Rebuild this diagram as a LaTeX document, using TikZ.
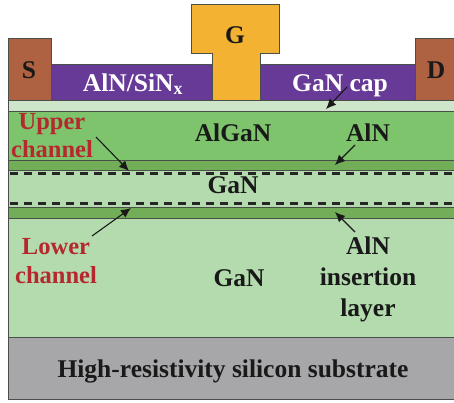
\documentclass[tikz,border=0pt]{standalone}
\usepackage{fontspec}
\setmainfont{Liberation Serif}
\usetikzlibrary{arrows.meta}
\definecolor{capgreen}{HTML}{CDE5C8}
\definecolor{barrier}{HTML}{7DC46C}
\definecolor{spacer}{HTML}{72AD58}
\definecolor{buffer}{HTML}{B4DBAE}
\definecolor{contact}{HTML}{AE6242}
\definecolor{passiv}{HTML}{663A96}
\definecolor{gate}{HTML}{F4B233}
\definecolor{substrate}{HTML}{A7A7AA}
\definecolor{outline}{HTML}{4A4F4A}
\definecolor{channelred}{HTML}{B5282E}
\tikzset{
	layer/.style={draw=outline, line width=1pt},
	lbl/.style={font=\bfseries\fontsize{25.5}{30}\selectfont, text=black!90, inner sep=0pt, anchor=base},
	lblred/.style={lbl, font=\bfseries\fontsize{24.5}{29}\selectfont, text=channelred},
	lblwhite/.style={lbl, text=white},
	pointer/.style={-{Latex[length=10pt,width=9pt]}, line width=1.1pt, black!90},
	channel/.style={draw=black!85, dash pattern=on 7.5pt off 6.5pt, line width=3pt}
}
\begin{document}
\begin{tikzpicture}[x=1pt, y=-1pt]
	\useasboundingbox (0,0) rectangle (454,402);
	% epitaxial stack
	\draw [layer, fill=substrate] (8,337) rectangle (456,399);
	\draw [layer, fill=buffer] (8,218) rectangle (456,337);
	\draw [layer, fill=spacer] (8,207) rectangle (456,218);
	\draw [draw=none, fill=buffer] (8,171) rectangle (456,207);
	\draw [layer, fill=spacer] (8,160) rectangle (456,170);
	\draw [layer, fill=barrier] (8,111) rectangle (456,160);
	\draw [layer, fill=capgreen] (8,100) rectangle (456,111);
	\draw [outline, line width=1pt] (8,170) -- (8,207);
	% top contacts
	\draw [layer, fill=passiv] (51,64) rectangle (415,100);
	\draw [layer, fill=contact] (8,38) rectangle (51,100);
	\draw [layer, fill=contact] (415,38) rectangle (456,100);
	\draw [layer, fill=gate] (212,100) -- (212,53) -- (191,53) -- (191,4) -- (279,4) -- (279,53) -- (260,53) -- (260,100) -- cycle;
	% channels
	\coordinate (upL) at (10,173);
	\coordinate (upR) at (456,173);
	\coordinate (loL) at (10,203);
	\coordinate (loR) at (456,203);
	\draw [channel] (upL) -- (upR);
	\draw [channel] (loL) -- (loR);
	% labels
	\node [lbl] (gl) at (235,43) {G};
	\node [lbl] (sl) at (29,78) {S};
	\node [lbl] (dl) at (436,78) {D};
	\node [lblwhite] (sinl) at (133,91) {AlN/SiN\textsubscript{x}};
	\node [lblwhite] (capl) at (340,91) {GaN cap};
	\node [lbl] (algan) at (233,141) {AlGaN};
	\node [lbl] (alnu) at (368,141) {AlN};
	\node [lbl] (ganu) at (233,193) {GaN};
	\node [lbl] (ganl) at (239,286) {GaN};
	\node [lbl] (alnl) at (368,254) {AlN};
	\node [lbl] (ins) at (368,285) {insertion};
	\node [lbl] (lay) at (368,316) {layer};
	\node [lblred] (upper) at (52,129) {Upper};
	\node [lblred] (ch1) at (52,157) {channel};
	\node [lblred] (lower) at (56,254) {Lower};
	\node [lblred] (ch2) at (56,283) {channel};
	\node [lbl] (subl) at (233,377) {High-resistivity silicon substrate};
	% arrows
	\coordinate (a1) at (96,137);
	\coordinate (a2) at (129,171);
	\coordinate (b1) at (92,236);
	\coordinate (b2) at (131,208);
	\coordinate (c1) at (347,87);
	\coordinate (c2) at (326,109);
	\coordinate (d1) at (355,145);
	\coordinate (d2) at (335,165);
	\coordinate (e1) at (355,232);
	\coordinate (e2) at (335,212);
	\draw [pointer] (a1) -- (a2);
	\draw [pointer] (b1) -- (b2);
	\draw [pointer] (c1) -- (c2);
	\draw [pointer] (d1) -- (d2);
	\draw [pointer] (e1) -- (e2);
\end{tikzpicture}
\end{document}
